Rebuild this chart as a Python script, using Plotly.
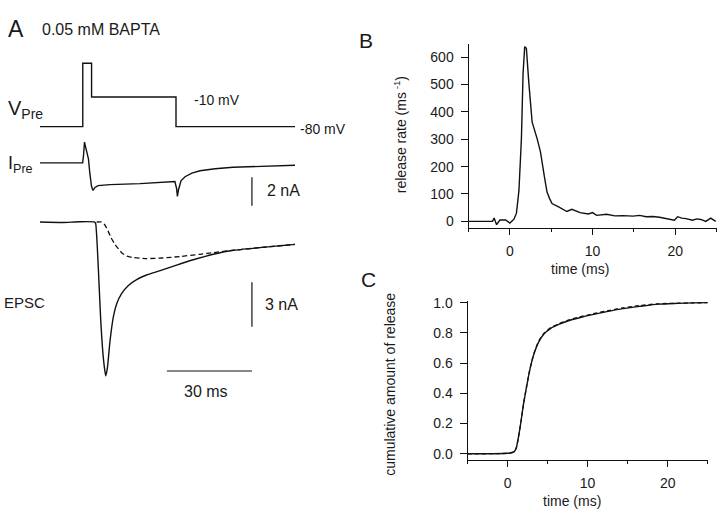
import plotly.graph_objects as go

# ---------------- data ----------------
# Panel A: presynaptic voltage command (ms, mV)
vpre_t = [0, 15.1, 15.1, 18.2, 18.2, 48.0, 48.0, 90]
vpre_mv = [-80, -80, 70, 70, -10, -10, -80, -80]

# Panel A: presynaptic current (ms, nA)
ipre_t = [0, 15.05, 15.4, 15.7, 16.1, 16.6, 17.1, 17.6, 18.2, 18.7, 19.4, 20.5, 24.7, 35.3, 47.6,
          48.2, 48.5, 48.9, 49.8, 51.2, 53.6, 56.5, 61.8, 68.1, 77.6, 90]
ipre_na = [0, 0, 0.6, 1.45, 1.1, 0.76, 0.28, -0.76, -1.66, -1.93, -1.72, -1.59, -1.52, -1.45, -1.31,
           -1.79, -2.34, -1.86, -1.24, -0.97, -0.72, -0.55, -0.41, -0.31, -0.24, -0.17]

# Panel A: EPSC (ms, nA) and its slow/dashed counterpart
epsc_t = [0, 8, 14, 19.3, 19.65, 20.6, 21.4, 22.35, 23.2, 23.8, 24.7, 25.9, 27.1, 28.8, 31.2, 34.1,
          37.6, 42.4, 48.2, 54.1, 61.2, 68.2, 77.6, 90]
epsc_na = [0, -0.03, 0.02, 0, -0.1, -3.18, -6.51, -9.18, -10.4, -9.84, -8.07, -6.4, -5.51, -4.84, -4.29,
           -3.89, -3.58, -3.29, -2.91, -2.55, -2.18, -1.91, -1.73, -1.51]
epsc_dash_t = [20.0, 21.8, 22.9, 24.0, 25.1, 26.5, 28.8, 30.7, 32.8, 37.1, 43.4, 49.4, 56.5, 61.2,
               68.2, 77.6, 90]
epsc_dash_na = [0, 0, -0.2, -0.6, -1.07, -1.51, -2.07, -2.3, -2.4, -2.47, -2.43, -2.33, -2.18, -2.07,
                -1.91, -1.73, -1.51]

scalebar_time_ms = 30
scalebar_ipre_na = 2
scalebar_epsc_na = 3

# Panel B: release rate (ms, ms^-1)
rate_t = [-5, -3, -2.1, -1.9, -1.6, -1.2, -0.5, 0, 0.5, 0.8, 1.1, 1.4, 1.6, 1.8, 2.0, 2.3, 2.7, 3.3,
          3.7, 4.2, 4.5, 4.8, 5.1, 5.9, 6.9, 7.5, 8.5, 9.5, 10.0, 10.5, 11.7, 12.7, 13.7, 14.9, 15.7,
          16.5, 17.3, 18.1, 18.7, 19.3, 19.9, 20.3, 20.8, 21.3, 22.1, 22.6, 23.1, 23.7, 24.3, 24.9]
rate_val = [0, 0, 0, 12, -12, 5, 5, -6, 8, 30, 112, 302, 540, 638, 632, 505, 362, 302,
            255, 160, 107, 84, 65, 53, 36, 44, 32, 27, 32, 22, 26, 20, 21, 19, 22,
            17, 18, 15, 12, 8, 4, 17, 12, 10, 4, 9, 7, 0, 12, 0]

# Panel C: cumulative release (normalised)
cum_t = [-5, 0, 0.8, 1.1, 1.4, 1.7, 2.0, 2.4, 2.8, 3.3, 3.9, 4.6, 5.4, 6.4, 7.6, 9.0, 10.6, 12.4,
         14.4, 16.5, 18.8, 21.2, 23.2, 25]
cum_val = [0, 0.003, 0.012, 0.04, 0.12, 0.22, 0.33, 0.45, 0.56, 0.66, 0.74, 0.795, 0.83, 0.856,
           0.88, 0.9, 0.92, 0.94, 0.96, 0.975, 0.99, 0.995, 0.998, 1.0]
cum_fit_val = [0, 0.003, 0.012, 0.04, 0.12, 0.22, 0.33, 0.45, 0.56, 0.665, 0.745, 0.80, 0.835,
               0.86, 0.884, 0.905, 0.925, 0.945, 0.965, 0.98, 0.992, 0.996, 0.998, 1.0]

# ---------------- layout helpers ----------------
W, H = 720, 515
FONT = "Liberation Sans, Arial, Helvetica, sans-serif"
INK = "#111111"


def px_x(p):
    return p / W


def px_y(p):
    return 1 - p / H


def hidden_y(px_top, px_bot, ref_val, ref_px, ppu):
    lo = ref_val - (px_bot - ref_px) / ppu
    hi = ref_val + (ref_px - px_top) / ppu
    return dict(domain=[px_y(px_bot), px_y(px_top)], range=[lo, hi], visible=False)


A_XDOM = [px_x(40), px_x(295)]
hidden_x = lambda anchor: dict(domain=A_XDOM, range=[0, 90], visible=False, anchor=anchor)

fig = go.Figure()
line = dict(color=INK, width=1.4)

fig.add_trace(go.Scatter(x=vpre_t, y=vpre_mv, mode="lines", line=line, xaxis="x", yaxis="y"))
fig.add_trace(go.Scatter(x=ipre_t, y=ipre_na, mode="lines", line=line, xaxis="x2", yaxis="y2"))
fig.add_trace(go.Scatter(x=epsc_dash_t, y=epsc_dash_na, mode="lines",
                         line=dict(color=INK, width=1.3, dash="5px,3px", shape="spline", smoothing=0.6),
                         xaxis="x3", yaxis="y3"))
fig.add_trace(go.Scatter(x=epsc_t, y=epsc_na, mode="lines",
                         line=dict(color=INK, width=1.4, shape="spline", smoothing=0.5),
                         xaxis="x3", yaxis="y3"))
fig.add_trace(go.Scatter(x=rate_t, y=rate_val, mode="lines", line=line, xaxis="x4", yaxis="y4"))
fig.add_trace(go.Scatter(x=cum_t, y=cum_fit_val, mode="lines",
                         line=dict(color=INK, width=1.3, dash="4px,3px", shape="spline", smoothing=0.6),
                         xaxis="x5", yaxis="y5"))
fig.add_trace(go.Scatter(x=cum_t, y=cum_val, mode="lines",
                         line=dict(color=INK, width=1.4, shape="spline", smoothing=0.6),
                         xaxis="x5", yaxis="y5"))

axis_common = dict(showline=True, linecolor=INK, linewidth=1, ticks="outside", tickcolor=INK,
                   tickwidth=1, showgrid=False, zeroline=False,
                   tickfont=dict(family=FONT, size=14, color="#1a1a1a"))

layout = dict(
    width=W, height=H, margin=dict(l=0, r=0, t=0, b=0),
    paper_bgcolor="white", plot_bgcolor="rgba(0,0,0,0)", showlegend=False,
    font=dict(family=FONT, color="#1a1a1a"),
    xaxis=hidden_x("y"), xaxis2=hidden_x("y2"), xaxis3=hidden_x("y3"),
    yaxis=dict(hidden_y(45, 130, -80, 122.3, 30 / 70), anchor="x"),
    yaxis2=dict(hidden_y(132, 206, 0, 159, 14.5), anchor="x2"),
    yaxis3=dict(hidden_y(208, 382, 0, 219, 15), anchor="x3"),
    xaxis4=dict(axis_common, domain=[px_x(468.5), px_x(716.5)], range=[-5, 25], anchor="y4",
                tickvals=[0, 10, 20], ticklen=6, ticklabelstandoff=4,
                minor=dict(tickvals=[-5, 5, 15, 25], ticklen=3, ticks="outside", tickcolor=INK)),
    yaxis4=dict(axis_common, domain=[px_y(225), px_y(39)], range=[-24, 646], anchor="x4",
                dtick=100, ticklen=7, ticklabelstandoff=4),
    xaxis5=dict(axis_common, domain=[px_x(467.5), px_x(707.7)], range=[-5, 25], anchor="y5",
                tickvals=[0, 10, 20], ticklen=6, ticklabelstandoff=4,
                minor=dict(tickvals=[-5, 5, 15, 25], ticklen=3, ticks="outside", tickcolor=INK)),
    yaxis5=dict(axis_common, domain=[px_y(460.5), px_y(299)], range=[-0.043, 1.011], anchor="x5",
                dtick=0.2, tickformat=".1f", ticklen=7, ticklabelstandoff=4),
)
fig.update_layout(**layout)

# scale bars (panel A)
bar_t = 74.8
fig.add_shape(type="line", xref="x2", yref="y2", x0=bar_t, x1=bar_t, y0=-1.0,
              y1=-1.0 - scalebar_ipre_na, line=dict(color=INK, width=1.2))
fig.add_shape(type="line", xref="x3", yref="y3", x0=bar_t, x1=bar_t, y0=-4.07,
              y1=-4.07 - scalebar_epsc_na, line=dict(color=INK, width=1.2))
fig.add_shape(type="line", xref="x3", yref="y3", x0=bar_t - scalebar_time_ms, x1=bar_t,
              y0=-10.07, y1=-10.07, line=dict(color=INK, width=1.2))


def label(text, x, y, size, xanchor="left", yanchor="middle", angle=0):
    fig.add_annotation(text=text, x=px_x(x), y=px_y(y), xref="paper", yref="paper",
                       xanchor=xanchor, yanchor=yanchor, showarrow=False, textangle=angle,
                       font=dict(family=FONT, size=size, color="#1a1a1a"))


label("A", 6, 23, 23)
label("0.05 mM BAPTA", 40, 24, 16)
label("V<sub>Pre</sub>", 6, 105, 20)
label("I<sub>Pre</sub>", 6, 161, 18)
label("EPSC", 2, 301, 15)
label("-10 mV", 192, 95, 14)
label("-80 mV", 298, 125, 14)
label(f"{scalebar_ipre_na} nA", 265, 187, 16)
label(f"{scalebar_epsc_na} nA", 263, 303, 16)
label(f"{scalebar_time_ms} ms", 206, 391, 16, xanchor="center")
label("B", 366, 35, 21, xanchor="center")
label("C", 368, 277, 21, xanchor="center")
label("time (ms)", 580, 267, 14, xanchor="center")
label("time (ms)", 572, 502, 14, xanchor="center")
label("release rate (ms<sup> -1</sup>)", 400, 131, 14, xanchor="center", angle=-90)
label("cumulative amount of release", 390, 384, 14, xanchor="center", angle=-90)

fig.write_html("out.html", config={"displayModeBar": False},
               post_script="document.body.style.margin='0';document.body.style.padding='0';")
